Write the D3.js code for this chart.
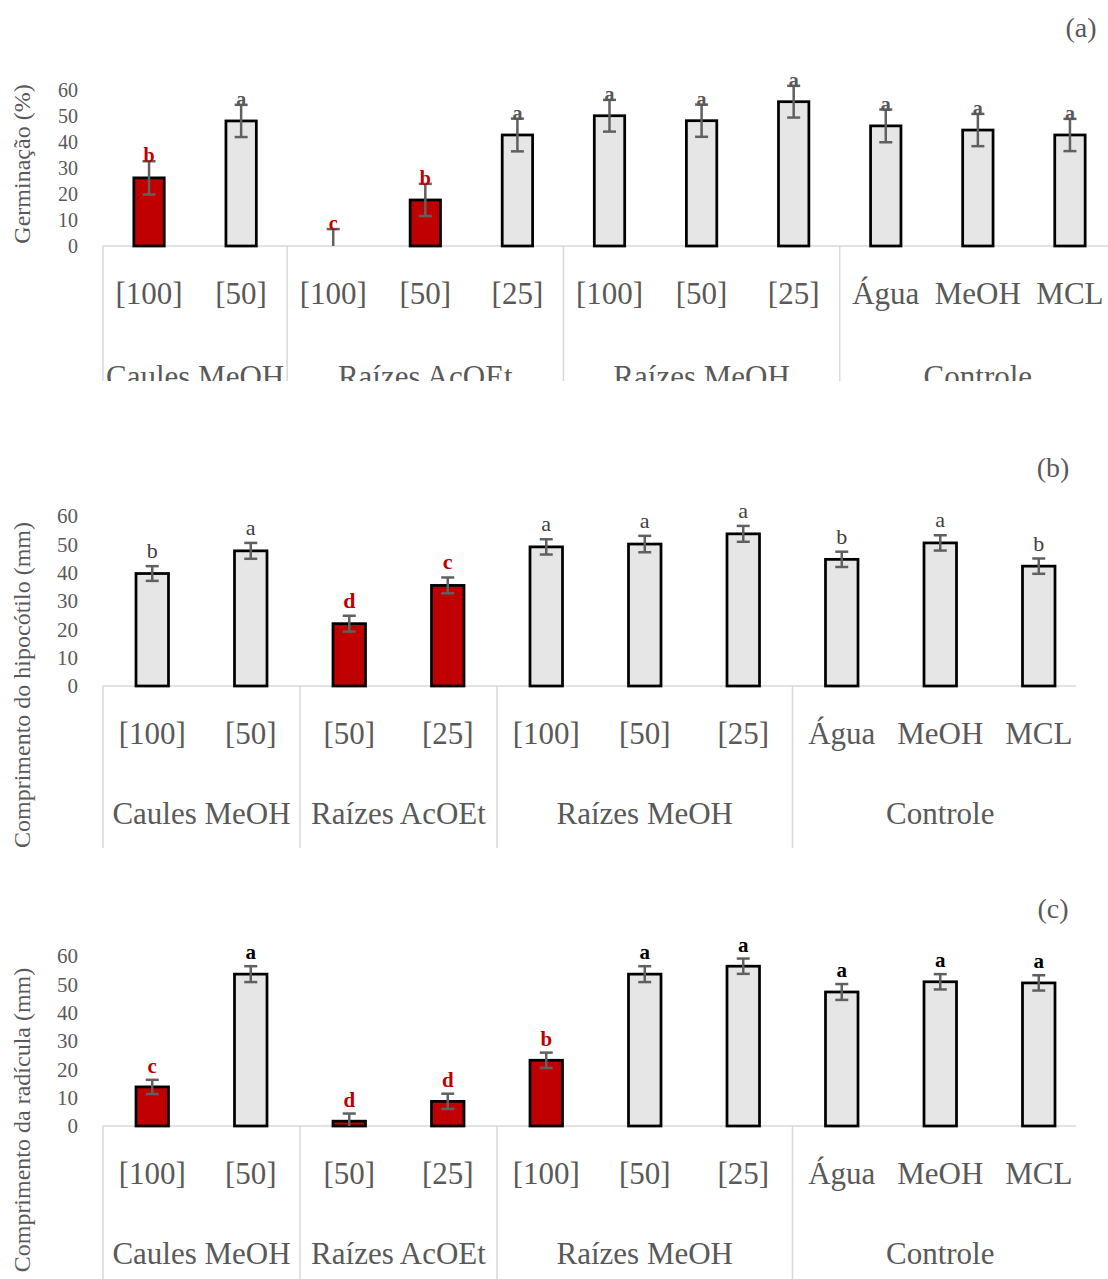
<!DOCTYPE html>
<html>
<head>
<meta charset="utf-8">
<script src="https://cdn.jsdelivr.net/npm/d3@7"></script>
<style>
  html, body { margin: 0; padding: 0; background: #ffffff; }
  svg { display: block; }
  text { font-family: "Liberation Serif", "Times New Roman", serif; }
</style>
</head>
<body>
<svg id="chart" width="1108" height="1279"></svg>
<script>
// ---------------- DATA ----------------
const yTicks = [0, 10, 20, 30, 40, 50, 60];

// Panel (a) Germinação
const catsA = ["[100]", "[50]", "[100]", "[50]", "[25]", "[100]", "[50]", "[25]", "Água", "MeOH", "MCL"];
const groupsA = ["Caules MeOH", "Raízes AcOEt", "Raízes MeOH", "Controle"];
const groupSizesA = [2, 3, 3, 3];
const germValues = [26.2, 48.1, 0, 17.7, 42.7, 50.1, 48.2, 55.5, 46.2, 44.6, 42.7];
const germErrors = [6.4, 6.2, 6.5, 6.2, 6.3, 6.1, 6.2, 6.1, 6.3, 6.2, 6.2];
const germLetters = ["b", "a", "c", "b", "a", "a", "a", "a", "a", "a", "a"];
const germSignificant = [true, false, true, true, false, false, false, false, false, false, false];

// Panels (b) and (c)
const catsBC = ["[100]", "[50]", "[50]", "[25]", "[100]", "[50]", "[25]", "Água", "MeOH", "MCL"];
const groupsBC = ["Caules MeOH", "Raízes AcOEt", "Raízes MeOH", "Controle"];
const groupSizesBC = [2, 2, 3, 3];

const hypoValues = [39.7, 47.7, 22.0, 35.5, 49.1, 50.1, 53.7, 44.7, 50.5, 42.3];
const hypoErrors = [2.6, 2.8, 2.8, 2.8, 2.7, 2.9, 2.8, 2.7, 2.7, 2.7];
const hypoLetters = ["b", "a", "d", "c", "a", "a", "a", "b", "a", "b"];
const hypoSignificant = [false, false, true, true, false, false, false, false, false, false];

const radValues = [13.8, 53.6, 1.7, 8.7, 23.2, 53.6, 56.4, 47.3, 50.9, 50.5];
const radErrors = [2.5, 2.8, 2.7, 2.7, 2.7, 2.8, 2.7, 2.8, 2.7, 2.7];
const radLetters = ["c", "a", "d", "d", "b", "a", "a", "a", "a", "a"];
const radSignificant = [true, false, true, true, true, false, false, false, false, false];

// ---------------- DRAWING ----------------
const svg = d3.select("#chart");
const RED = "#c00000", GRAY = "#e6e6e6", TXT = "#595959", GRID = "#d9d9d9", ERR = "#606060";

function drawPanel(cfg) {
  const g = svg.append("g");
  if (cfg.clipBottom) {
    const id = "clip" + cfg.key;
    svg.append("defs").append("clipPath").attr("id", id)
      .append("rect").attr("x", 0).attr("y", cfg.clipTop).attr("width", 1108).attr("height", cfg.clipBottom - cfg.clipTop);
    g.attr("clip-path", `url(#${id})`);
  }
  const idx = d3.range(cfg.cats.length);
  const x = d3.scaleBand().domain(idx).range(cfg.xRange).paddingInner(0).paddingOuter(0);
  const y = d3.scaleLinear().domain([0, 60]).range([cfg.y0, cfg.y60]);
  const bw = x.bandwidth() * 0.33;

  // y tick labels
  g.selectAll(".ytick").data(yTicks).enter().append("text")
    .attr("x", 78).attr("y", d => y(d)).attr("dy", "0.35em")
    .attr("text-anchor", "end").attr("fill", TXT).attr("font-size", cfg.tickSize)
    .text(d => d);

  // y axis title
  g.append("text")
    .attr("transform", `translate(22,${cfg.titleY}) rotate(-90)`)
    .attr("text-anchor", "middle").attr("dy", "0.35em")
    .attr("fill", TXT).attr("font-size", 24)
    .text(cfg.title);

  // panel label
  g.append("text").attr("x", cfg.labelX).attr("y", cfg.labelY).attr("dy", "0.35em")
    .attr("text-anchor", "middle").attr("fill", TXT).attr("font-size", 28)
    .text(cfg.tag);

  // baseline
  g.append("line").attr("x1", cfg.xRange[0]).attr("x2", cfg.lineEnd)
    .attr("y1", y(0)).attr("y2", y(0)).attr("stroke", GRID).attr("stroke-width", 1.5);

  // group separators (left edge of every group)
  let pos = 0;
  const bounds = [0];
  cfg.groupSizes.forEach(n => { pos += n; bounds.push(pos); });
  bounds.slice(0, -1).forEach(b => {
    const bx = x(b);
    g.append("line").attr("x1", bx).attr("x2", bx)
      .attr("y1", y(0)).attr("y2", cfg.sepBottom)
      .attr("stroke", GRID).attr("stroke-width", 1.5);
  });

  // category labels
  g.selectAll(".cat").data(cfg.cats).enter().append("text")
    .attr("x", (d, i) => x(i) + x.bandwidth() / 2).attr("y", cfg.catY).attr("dy", "0.35em")
    .attr("text-anchor", "middle").attr("fill", TXT).attr("font-size", 31)
    .text(d => d);

  // group labels
  cfg.groups.forEach((name, gi) => {
    const x1 = x(bounds[gi]);
    const x2 = bounds[gi + 1] < cfg.cats.length ? x(bounds[gi + 1]) : cfg.xRange[1];
    g.append("text").attr("x", (x1 + x2) / 2).attr("y", cfg.grpY).attr("dy", "0.35em")
      .attr("text-anchor", "middle").attr("fill", TXT).attr("font-size", 31)
      .text(name);
  });

  // bars
  g.selectAll(".bar").data(cfg.values).enter().append("rect")
    .attr("x", (d, i) => x(i) + (x.bandwidth() - bw) / 2)
    .attr("y", d => y(d))
    .attr("width", bw)
    .attr("height", d => y(0) - y(d))
    .attr("fill", (d, i) => cfg.sig[i] ? RED : GRAY)
    .attr("stroke", "#000").attr("stroke-width", 2.75)
    .attr("display", d => d > 0 ? null : "none");

  // error bars + letters
  const cap = 6.5;
  cfg.values.forEach((v, i) => {
    const cx = x(i) + x.bandwidth() / 2;
    const hi = v + cfg.errors[i];
    const lo = Math.max(0, v - cfg.errors[i]);
    g.append("line").attr("x1", cx).attr("x2", cx).attr("y1", y(hi)).attr("y2", y(lo))
      .attr("stroke", ERR).attr("stroke-width", 2.5);
    g.append("line").attr("x1", cx - cap).attr("x2", cx + cap).attr("y1", y(hi)).attr("y2", y(hi))
      .attr("stroke", ERR).attr("stroke-width", 2.5);
    if (v - cfg.errors[i] > 0) {
      g.append("line").attr("x1", cx - cap).attr("x2", cx + cap).attr("y1", y(lo)).attr("y2", y(lo))
        .attr("stroke", ERR).attr("stroke-width", 2.5);
    }
    g.append("text").attr("x", cx).attr("y", y(hi) + cfg.letterOffset)
      .attr("text-anchor", "middle")
      .attr("font-size", cfg.letterSize)
      .attr("font-weight", cfg.sig[i] ? "bold" : cfg.letterWeight)
      .attr("fill", cfg.sig[i] ? RED : cfg.letterColor)
      .text(cfg.letters[i]);
  });
}

drawPanel({
  key: "a", tag: "(a)", cats: catsA, groups: groupsA, groupSizes: groupSizesA,
  values: germValues, errors: germErrors, letters: germLetters, sig: germSignificant,
  xRange: [103, 1116], lineEnd: 1108, y0: 246, y60: 90,
  sepBottom: 390, catY: 293, grpY: 376, titleY: 164,
  labelX: 1081, labelY: 27, letterOffset: 1, letterSize: 20, letterWeight: "bold", letterColor: TXT,
  tickSize: 20, title: "Germinação (%)", clipTop: 0, clipBottom: 381
});

drawPanel({
  key: "b", tag: "(b)", cats: catsBC, groups: groupsBC, groupSizes: groupSizesBC,
  values: hypoValues, errors: hypoErrors, letters: hypoLetters, sig: hypoSignificant,
  xRange: [103, 1088], lineEnd: 1076, y0: 686, y60: 516,
  sepBottom: 848, catY: 733, grpY: 813, titleY: 685,
  labelX: 1053, labelY: 467, letterOffset: -8, letterSize: 22, letterWeight: "normal", letterColor: "#404040",
  tickSize: 21, title: "Comprimento do hipocótilo (mm)"
});

drawPanel({
  key: "c", tag: "(c)", cats: catsBC, groups: groupsBC, groupSizes: groupSizesBC,
  values: radValues, errors: radErrors, letters: radLetters, sig: radSignificant,
  xRange: [103, 1088], lineEnd: 1076, y0: 1126, y60: 956,
  sepBottom: 1279, catY: 1173, grpY: 1253, titleY: 1120,
  labelX: 1053, labelY: 908, letterOffset: -7, letterSize: 21, letterWeight: "bold", letterColor: "#000",
  tickSize: 21, title: "Comprimento da radícula (mm)"
});
</script>
</body>
</html>
